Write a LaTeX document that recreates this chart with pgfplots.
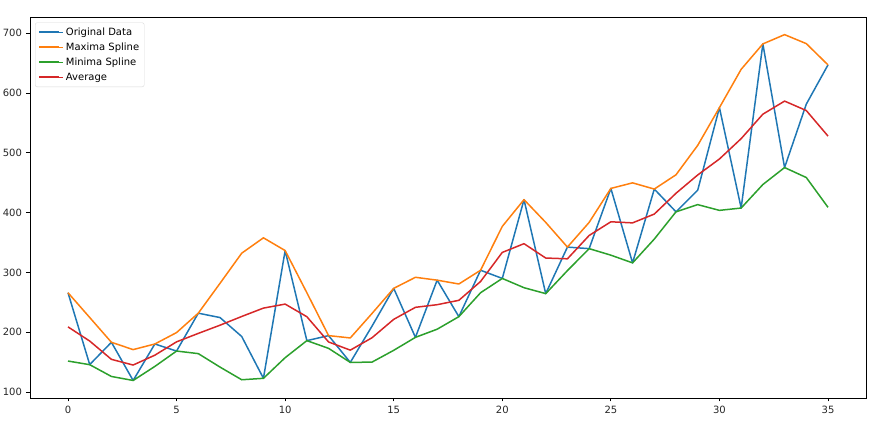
\documentclass[border=0pt]{standalone}
\usepackage{fontspec}
\setmainfont{DejaVu Sans}
\usepackage{pgfplots}
\pgfplotsset{compat=1.18}
\usepackage{pgfplotstable}
\definecolor{tabblue}{HTML}{1F77B4}
\definecolor{taborange}{HTML}{FF7F0E}
\definecolor{tabgreen}{HTML}{2CA02C}
\definecolor{tabred}{HTML}{D62728}

\pgfplotstableread{
x orig maxs mins avg
0 266.0 266.0 151.8 208.9
1 145.9 224.6 145.7 185.2
2 183.1 183.1 126.0 154.6
3 119.3 170.9 119.3 145.1
4 180.3 180.3 142.8 161.6
5 168.5 199.4 168.5 183.9
6 231.8 231.8 164.2 198.0
7 224.5 281.7 141.7 211.7
8 192.8 332.1 120.5 226.3
9 122.9 357.8 122.9 240.3
10 336.5 336.5 157.4 247.0
11 185.9 266.0 185.9 225.9
12 194.3 194.3 173.0 183.7
13 149.5 190.4 149.5 170.0
14 210.1 231.3 150.0 190.7
15 273.3 273.3 169.7 221.5
16 191.4 291.8 191.4 241.6
17 287.0 287.0 205.0 246.0
18 226.0 280.6 226.0 253.3
19 303.6 303.6 266.0 284.8
20 289.9 376.9 289.9 333.4
21 421.6 421.6 274.4 348.0
22 264.5 383.6 264.5 324.0
23 342.3 342.3 303.0 322.7
24 339.7 383.6 339.7 361.7
25 440.4 440.4 328.8 384.6
26 315.9 449.7 315.9 382.8
27 439.3 439.3 355.7 397.5
28 401.3 463.2 401.3 432.3
29 437.4 512.4 413.3 462.9
30 575.5 575.5 403.7 489.6
31 407.6 639.5 407.6 523.6
32 682.0 682.0 446.9 564.5
33 475.3 697.5 475.3 586.4
34 581.3 682.5 458.6 570.6
35 646.9 646.9 408.8 527.9
}\data

\begin{document}
\begin{tikzpicture}
\useasboundingbox (0pt,0pt) rectangle (879pt,423pt);
\begin{axis}[
  at={(30pt,25pt)}, anchor=south west,
  scale only axis, width=836pt, height=381pt,
  xmin=-1.75, xmax=36.75, ymin=90, ymax=727,
  xtick={0,5,...,35}, ytick={100,200,...,700},
  tick pos=left, tick align=outside,
  major tick length=3.5pt,
  every tick/.style={black, line width=0.8pt},
  axis line style={black, line width=0.8pt},
  tick label style={font=\fontsize{10}{12}\selectfont, text=black!85},
  /pgf/number format/assume math mode=true,
  xticklabel style={yshift=-1pt},
  yticklabel style={xshift=-1pt},
  legend style={at={(0.006,0.9855)}, anchor=north west,
    draw=black!15, rounded corners=2pt, fill=white,
    font=\fontsize{10}{12}\selectfont, inner xsep=3pt, inner ysep=3pt,
    row sep=2pt},
  legend cell align=left,
  legend image code/.code={\draw[#1, line width=2pt, line cap=butt] (0pt,0pt) -- (20pt,0pt); \path (0pt,0pt) -- (24pt,0pt);},
  every axis plot/.append style={line width=1.5pt, line join=round},
]
\addplot[tabblue, no marks] table[x=x, y=orig] {\data};
\addlegendentry{Original Data}
\addplot[taborange, no marks] table[x=x, y=maxs] {\data};
\addlegendentry{Maxima Spline}
\addplot[tabgreen, no marks] table[x=x, y=mins] {\data};
\addlegendentry{Minima Spline}
\addplot[tabred, no marks] table[x=x, y=avg] {\data};
\addlegendentry{Average}
\end{axis}
\end{tikzpicture}
\end{document}
